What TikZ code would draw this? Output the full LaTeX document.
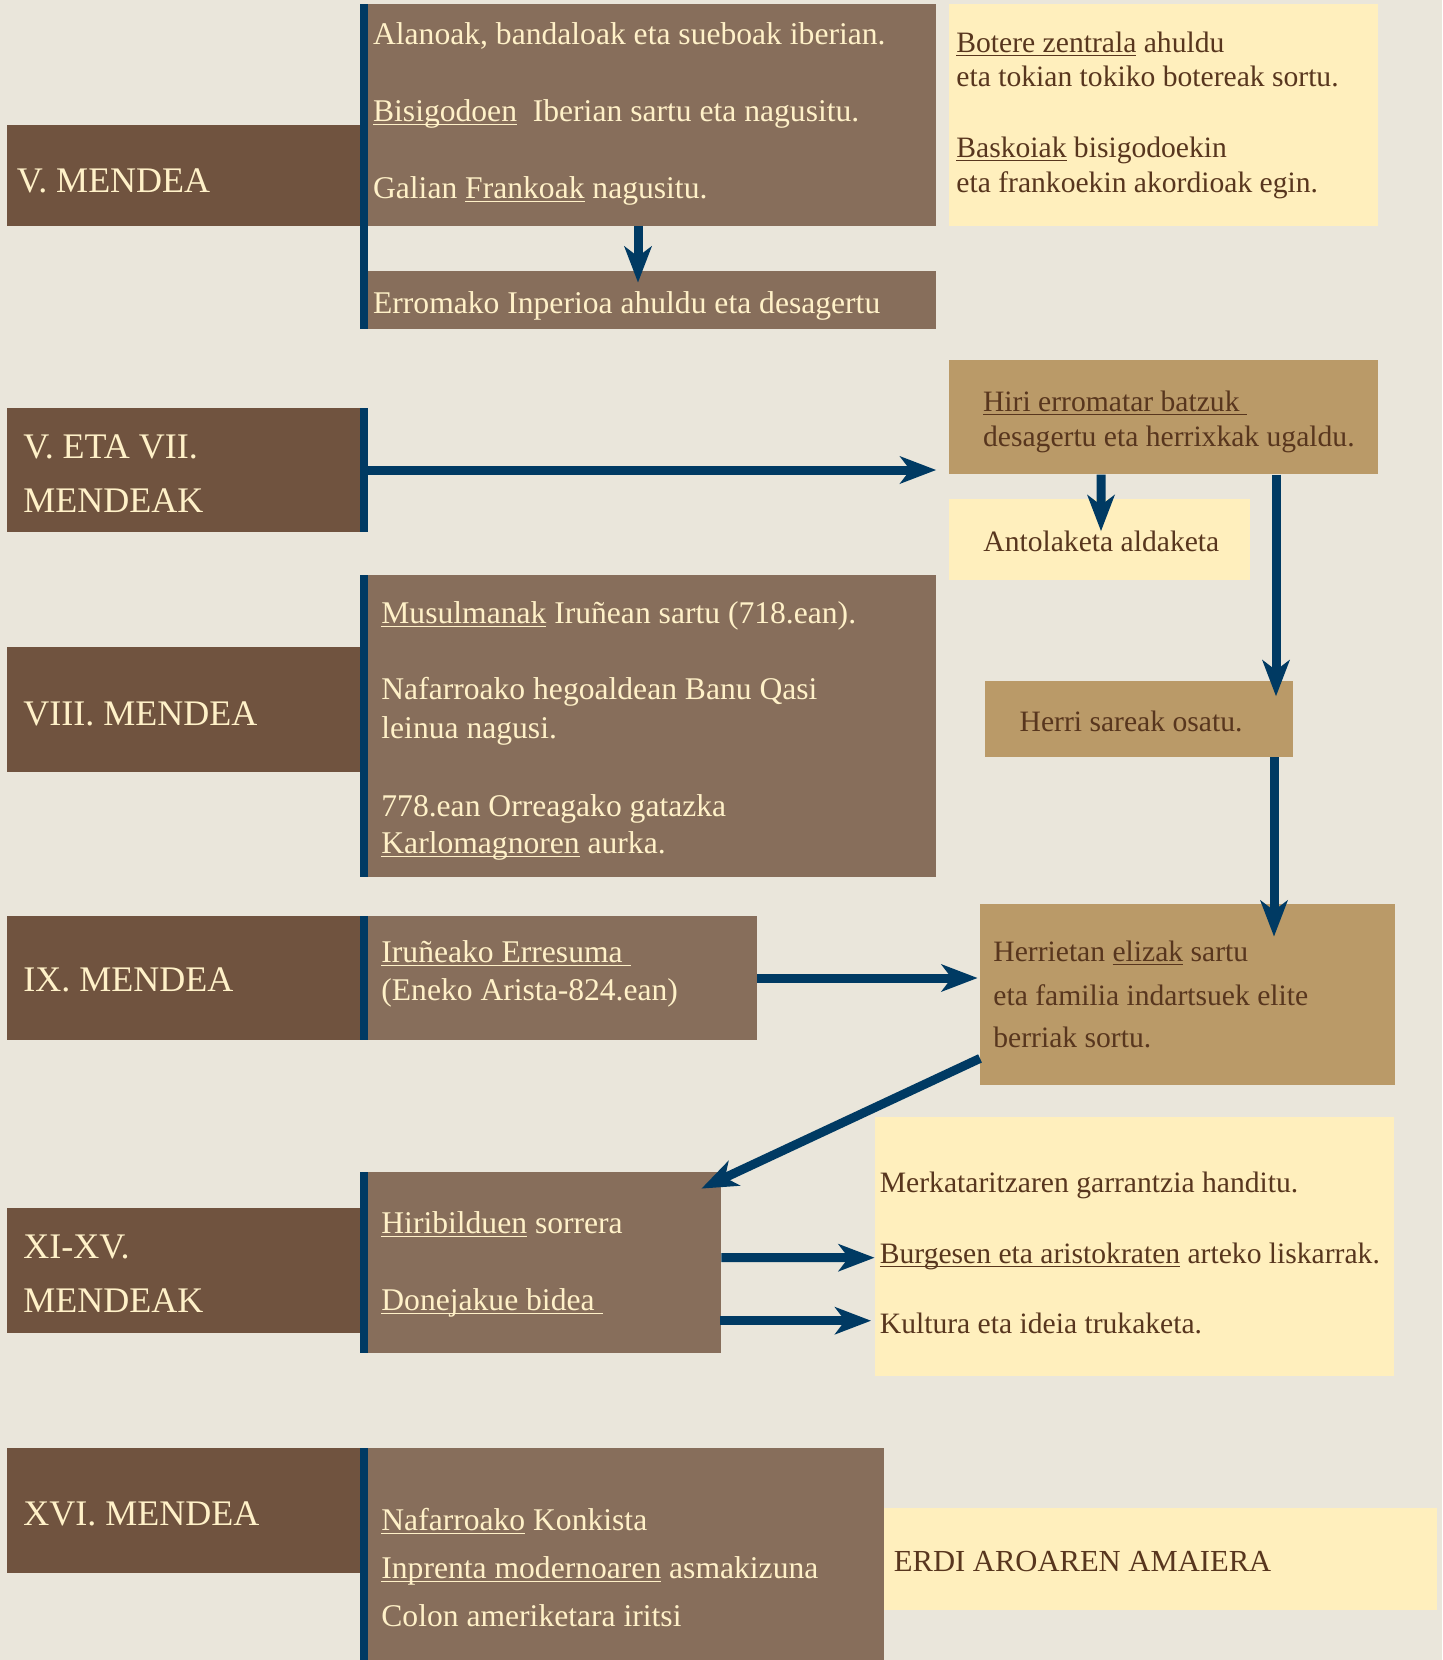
\documentclass[tikz,border=0pt]{standalone}
\usepackage{fontspec}
\setmainfont{Liberation Serif}
\usepackage{tikz}
\usetikzlibrary{arrows.meta,fit,positioning}
\definecolor{bgbeige}{RGB}{234,230,219}
\definecolor{darkbrown}{RGB}{112,83,63}
\definecolor{midbrown}{RGB}{135,110,91}
\definecolor{tanbox}{RGB}{186,154,104}
\definecolor{paleyellow}{RGB}{255,239,189}
\definecolor{navy}{RGB}{0,58,99}
\definecolor{cream}{RGB}{255,241,200}
\definecolor{ink}{RGB}{88,54,30}
\newcommand{\marra}[1]{\setbox0\hbox{#1}\rlap{\rule[-2pt]{\wd0}{0.6pt}}\box0\relax}
\tikzset{
    %Define standard arrow tip
    >={Stealth[length=18pt,width=13.5pt,inset=5pt]},
    %Define style for boxes
    period/.style={
           rectangle,
           fill=darkbrown,
           inner sep=0pt},
    event/.style={
           rectangle,
           fill=midbrown,
           inner sep=0pt},
    note/.style={
           rectangle,
           fill=paleyellow,
           inner sep=0pt},
    effect/.style={
           rectangle,
           fill=tanbox,
           inner sep=0pt},
    %Define style for texts
    lbl/.style={
           anchor=base west,
           inner sep=0pt,
           text=cream,
           font=\fontsize{18}{20}\selectfont},
    lt/.style={
           anchor=base west,
           inner sep=0pt,
           text=cream,
           font=\fontsize{15.8}{17}\selectfont},
    dk/.style={
           anchor=base west,
           inner sep=0pt,
           text=ink,
           font=\fontsize{14.8}{17}\selectfont},
    % Define arrow style
    gezia/.style={
           ->,
           draw=navy,
           line width=4.5pt}
}
\begin{document}
\begin{tikzpicture}[x=0.5pt,y=-0.5pt]
\fill[bgbeige] (0,0) rectangle (1442,1660);

\node[period, fit={(7,125)(360,226)}](v){};
\node[period, fit={(7,408)(360,532)}](vvii){};
\node[period, fit={(7,647)(360,772)}](viii){};
\node[period, fit={(7,916)(360,1040)}](ix){};
\node[period, fit={(7,1208)(360,1333)}](xixv){};
\node[period, fit={(7,1448)(360,1573)}](xvi){};

\node[event, fit={(367.5,4)(936,225.5)}](inbasio){};
\node[event, fit={(367.5,271)(936,329)}](erroma){};
\node[event, fit={(367.5,575)(936,877)}](musulman){};
\node[event, fit={(367.5,916)(757,1040)}](erresuma){};
\node[event, fit={(367.5,1172)(721,1353)}](hiribildu){};
\node[event, fit={(367.5,1448)(884,1660)}](konkista){};

\fill[navy] (360,4) rectangle (367.5,329);
\fill[navy] (360,408) rectangle (367.5,532);
\fill[navy] (360,575) rectangle (367.5,877);
\fill[navy] (360,916) rectangle (367.5,1040);
\fill[navy] (360,1172) rectangle (367.5,1353);
\fill[navy] (360,1448) rectangle (367.5,1660);

\node[note, fit={(948.6,4)(1378.4,225.5)}](botere){};
\node[note, fit={(948.6,498.6)(1250,580)}](antolaketa){};
\node[note, fit={(874.5,1117)(1394,1376)}](merkatu){};
\node[note, fit={(884,1507.6)(1436.7,1610)}](amaiera){};

\node[effect, fit={(948.6,360)(1378.4,474.3)}](hiri){};
\node[effect, fit={(984.6,680.7)(1292.7,757)}](sareak){};
\node[effect, fit={(980.4,904)(1395.4,1085)}](elizak){};

\node[lbl](vt) at (16.5,192.5){V. MENDEA};
\node[lbl](vviit) at (23,458){V. ETA VII.};
\node[lbl](vviib) at (23,512){MENDEAK};
\node[lbl](viiit) at (23,725){VIII. MENDEA};
\node[lbl](ixt) at (23,991.5){IX. MENDEA};
\node[lbl](xixvt) at (23,1258.5){XI-XV.};
\node[lbl](xixvb) at (23,1312){MENDEAK};
\node[lbl](xvit) at (23,1525.5){XVI. MENDEA};

\node[lt](inb1) at (372.7,44.5){Alanoak, bandaloak eta sueboak iberian.};
\node[lt](inb2) at (372.7,121){\marra{Bisigodoen}~ Iberian sartu eta nagusitu.};
\node[lt](inb3) at (372.7,198){Galian \marra{Frankoak} nagusitu.};
\node[lt](err1) at (372.7,313.5){Erromako Inperioa ahuldu eta desagertu};
\node[lt](mus1) at (381,623){\marra{Musulmanak} Iruñean sartu (718.ean).};
\node[lt](mus2) at (381,699){Nafarroako hegoaldean Banu Qasi};
\node[lt](mus3) at (381,738){leinua nagusi.};
\node[lt](mus4) at (381,816){778.ean Orreagako gatazka};
\node[lt](mus5) at (381,853){\marra{Karlomagnoren} aurka.};
\node[lt](err2) at (381,962){\marra{Iruñeako Erresuma }};
\node[lt](err3) at (381,1000.5){(Eneko Arista-824.ean)};
\node[lt](hir1) at (381,1233){\marra{Hiribilduen} sorrera};
\node[lt](hir2) at (381,1310){\marra{Donejakue bidea }};
\node[lt](kon1) at (381,1530){\marra{Nafarroako} Konkista};
\node[lt](kon2) at (381,1578){\marra{Inprenta modernoaren} asmakizuna};
\node[lt](kon3) at (381,1626){Colon ameriketara iritsi};

\node[dk](bot1) at (956,52){\marra{Botere zentrala} ahuldu};
\node[dk](bot2) at (956,86){eta tokian tokiko botereak sortu.};
\node[dk](bot3) at (956,157){\marra{Baskoiak} bisigodoekin};
\node[dk](bot4) at (956,192){eta frankoekin akordioak egin.};
\node[dk](hiri1) at (982.7,411){\marra{Hiri erromatar batzuk }};
\node[dk](hiri2) at (982.7,446.7){desagertu eta herrixkak ugaldu.};
\node[dk](ant1) at (983,551.7){Antolaketa aldaketa};
\node[dk](sar1) at (1019.3,731){Herri sareak osatu.};
\node[dk](eli1) at (993,961){Herrietan \marra{elizak} sartu};
\node[dk](eli2) at (993,1005){eta familia indartsuek elite};
\node[dk](eli3) at (993,1047){berriak sortu.};
\node[dk](mer1) at (879.5,1192.7){Merkataritzaren garrantzia handitu.};
\node[dk](mer2) at (879.5,1263){\marra{Burgesen eta aristokraten} arteko liskarrak.};
\node[dk](mer3) at (879.5,1333){Kultura eta ideia trukaketa.};
\node[dk, font=\fontsize{15.3}{17}\selectfont](ama1) at (893.5,1571.7){ERDI AROAREN AMAIERA};

\draw[gezia] ([shift={(-13.75,0)}]inbasio.south) -- ([shift={(-13.75,12)}]erroma.north);
\draw[gezia] ([shift={(7.5,0)}]vvii.east) -- ([shift={(-12,52.85)}]hiri.west);
\draw[gezia] ([shift={(-62.5,0)}]hiri.south) -- ([shift={(1.7,33)}]antolaketa.north);
\draw[gezia] ([shift={(112.5,0)}]hiri.south) -- ([shift={(137.35,16)}]sareak.north);
\draw[gezia] ([shift={(135.35,0)}]sareak.south) -- ([shift={(86.1,33)}]elizak.north);
\draw[gezia] (erresuma.east) -- ([shift={(-2.4,-16.5)}]elizak.west);
\draw[gezia] ([shift={(0,-27)}]elizak.south west) -- ([shift={(-20,17)}]hiribildu.north east);
\draw[gezia] ([shift={(0,-4.8)}]hiribildu.east) -- ([shift={(0.5,11.2)}]merkatu.west);
\draw[gezia] ([shift={(-1,58.2)}]hiribildu.east) -- ([shift={(-3,74.2)}]merkatu.west);
\end{tikzpicture}
\end{document}
